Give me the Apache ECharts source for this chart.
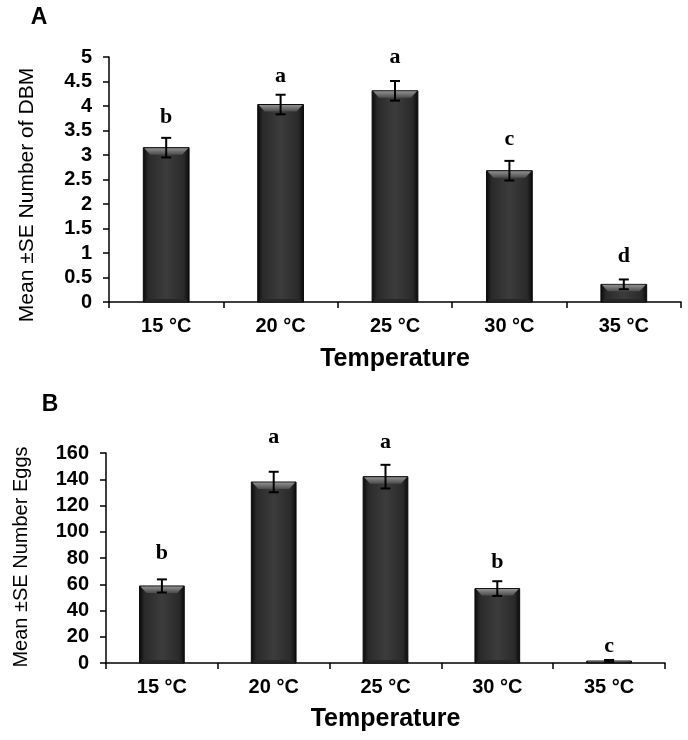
<!DOCTYPE html>
<html>
<head>
<meta charset="utf-8">
<script src="https://cdn.jsdelivr.net/npm/echarts@6/dist/echarts.min.js"></script>
<style>html,body{margin:0;padding:0;background:#fff}#c{width:688px;height:740px}</style>
</head>
<body>
<div id="c"></div>
<script>
// ---- data ----
var categories = ['15 °C', '20 °C', '25 °C', '30 °C', '35 °C'];
var dbmMean = [3.15, 4.03, 4.31, 2.68, 0.36];
var dbmSE = [0.2, 0.2, 0.2, 0.2, 0.1];
var dbmLetters = ['b', 'a', 'a', 'c', 'd'];
var dbmLetterY = [3.76, 4.61, 4.99, 3.32, 0.93];
var eggMean = [58.7, 137.9, 142.0, 56.7, 1.5];
var eggSE = [5, 7.8, 9, 5.6, 0.8];
var eggLetters = ['b', 'a', 'a', 'b', 'c'];
var eggLetterY = [83.6, 172.2, 168.4, 77, 13];
var dbmTicks = { min: 0, max: 5, interval: 0.5 };
var eggTicks = { min: 0, max: 160, interval: 20 };

var SANS = '"Liberation Sans", Arial, sans-serif';
var SERIF = '"Liberation Serif", "Times New Roman", serif';

function barRender(params, api) {
  var i = api.value(0), v = api.value(1);
  var top = api.coord([i, v]);
  var base = api.coord([i, 0]);
  var w = api.size([1, 0])[0] * 0.4;
  var x = top[0] - w / 2, y = top[1], h = base[1] - top[1];
  var b = Math.min(7, h / 2);
  var bb = Math.min(3, h / 2);
  return {
    type: 'group',
    children: [
      { type: 'rect', shape: { x: x, y: y, width: w, height: h },
        style: { fill: new echarts.graphic.LinearGradient(0, 0, 1, 0, [
          { offset: 0, color: '#080808' }, { offset: 0.12, color: '#2a2a2a' },
          { offset: 0.5, color: '#3c3c3c' }, { offset: 0.88, color: '#2a2a2a' },
          { offset: 1, color: '#080808' }]), stroke: '#0a0a0a', lineWidth: 1 } },
      { type: 'polygon', shape: { points: [[x + 1, y + 0.5], [x + w - 1, y + 0.5], [x + w - b, y + b], [x + b, y + b]] },
        style: { fill: new echarts.graphic.LinearGradient(0, 0, 0, 1, [
          { offset: 0, color: '#909090' }, { offset: 1, color: '#4c4c4c' }]) } },
      { type: 'polygon', shape: { points: [[x + 1, y + h - 0.5], [x + w - 1, y + h - 0.5], [x + w - bb, y + h - bb], [x + bb, y + h - bb]] },
        style: { fill: '#262626' } }
    ]
  };
}

function errRender(params, api) {
  var i = api.value(0), m = api.value(1), se = api.value(2);
  var hi = api.coord([i, m + se]);
  var lo = api.coord([i, m - se]);
  var cx = hi[0], c = 5;
  var st = { stroke: '#000', lineWidth: 2 };
  return {
    type: 'group',
    children: [
      { type: 'line', shape: { x1: cx, y1: hi[1], x2: cx, y2: lo[1] }, style: st },
      { type: 'line', shape: { x1: cx - c, y1: hi[1], x2: cx + c, y2: hi[1] }, style: st },
      { type: 'line', shape: { x1: cx - c, y1: lo[1], x2: cx + c, y2: lo[1] }, style: st }
    ]
  };
}

function letterRender(letters) {
  return function (params, api) {
    var p = api.coord([api.value(0), api.value(1)]);
    return { type: 'text', x: p[0], y: p[1],
      style: { text: letters[params.dataIndex], fontFamily: SERIF, fontWeight: 'bold', fontSize: 22,
        fill: '#000', align: 'center', verticalAlign: 'middle' } };
  };
}

function xAxisCfg(gridIndex, nameGap) {
  return {
    type: 'category', gridIndex: gridIndex, data: categories, boundaryGap: true,
    axisLine: { show: true, lineStyle: { color: '#000', width: 1.5 } },
    axisTick: { show: true, length: 6, lineStyle: { color: '#000', width: 1.5 } },
    axisLabel: { color: '#000', fontFamily: SANS, fontWeight: 'bold', fontSize: 20, margin: 14 },
    name: 'Temperature', nameLocation: 'middle', nameGap: nameGap,
    nameTextStyle: { color: '#000', fontFamily: SANS, fontWeight: 'bold', fontSize: 25 },
    splitLine: { show: false }
  };
}

function yAxisCfg(gridIndex, t) {
  return {
    type: 'value', gridIndex: gridIndex, min: t.min, max: t.max, interval: t.interval,
    axisLine: { show: true, lineStyle: { color: '#000', width: 1.5 } },
    axisTick: { show: true, length: 6, lineStyle: { color: '#000', width: 1.5 } },
    axisLabel: { color: '#000', fontFamily: SANS, fontWeight: 'bold', fontSize: 20, margin: 17 },
    splitLine: { show: false }
  };
}

function pairs(a) { return a.map(function (v, i) { return [i, v]; }); }
function triples(a, b) { return a.map(function (v, i) { return [i, v, b[i]]; }); }

var chart = echarts.init(document.getElementById('c'), null, { renderer: 'canvas' });
chart.setOption({
  animation: false,
  backgroundColor: '#fff',
  grid: [
    { left: 109, right: 7, top: 57, bottom: 438 },
    { left: 106, right: 23, top: 453, bottom: 77 }
  ],
  xAxis: [xAxisCfg(0, 45), xAxisCfg(1, 44)],
  yAxis: [yAxisCfg(0, dbmTicks), yAxisCfg(1, eggTicks)],
  graphic: [
    { type: 'text', x: 39, y: 18, style: { text: 'A', fontFamily: SANS, fontWeight: 'bold', fontSize: 23, fill: '#000', align: 'center', verticalAlign: 'middle' } },
    { type: 'text', x: 50, y: 405, style: { text: 'B', fontFamily: SANS, fontWeight: 'bold', fontSize: 23, fill: '#000', align: 'center', verticalAlign: 'middle' } },
    { type: 'text', x: 27, y: 195, rotation: Math.PI / 2, style: { text: 'Mean \u00b1SE Number of DBM', fontFamily: SANS, fontSize: 21, fill: '#000', align: 'center', verticalAlign: 'middle' } },
    { type: 'text', x: 21, y: 557, rotation: Math.PI / 2, style: { text: 'Mean \u00b1SE Number Eggs', fontFamily: SANS, fontSize: 20, fill: '#000', align: 'center', verticalAlign: 'middle' } }
  ],
  series: [
    { type: 'custom', xAxisIndex: 0, yAxisIndex: 0, renderItem: barRender, data: pairs(dbmMean), z: 2 },
    { type: 'custom', xAxisIndex: 0, yAxisIndex: 0, renderItem: errRender, data: triples(dbmMean, dbmSE), z: 3 },
    { type: 'custom', xAxisIndex: 0, yAxisIndex: 0, renderItem: letterRender(dbmLetters), data: pairs(dbmLetterY), z: 4 },
    { type: 'custom', xAxisIndex: 1, yAxisIndex: 1, renderItem: barRender, data: pairs(eggMean), z: 2 },
    { type: 'custom', xAxisIndex: 1, yAxisIndex: 1, renderItem: errRender, data: triples(eggMean, eggSE), z: 3 },
    { type: 'custom', xAxisIndex: 1, yAxisIndex: 1, renderItem: letterRender(eggLetters), data: pairs(eggLetterY), z: 4 }
  ]
});
</script>
</body>
</html>
